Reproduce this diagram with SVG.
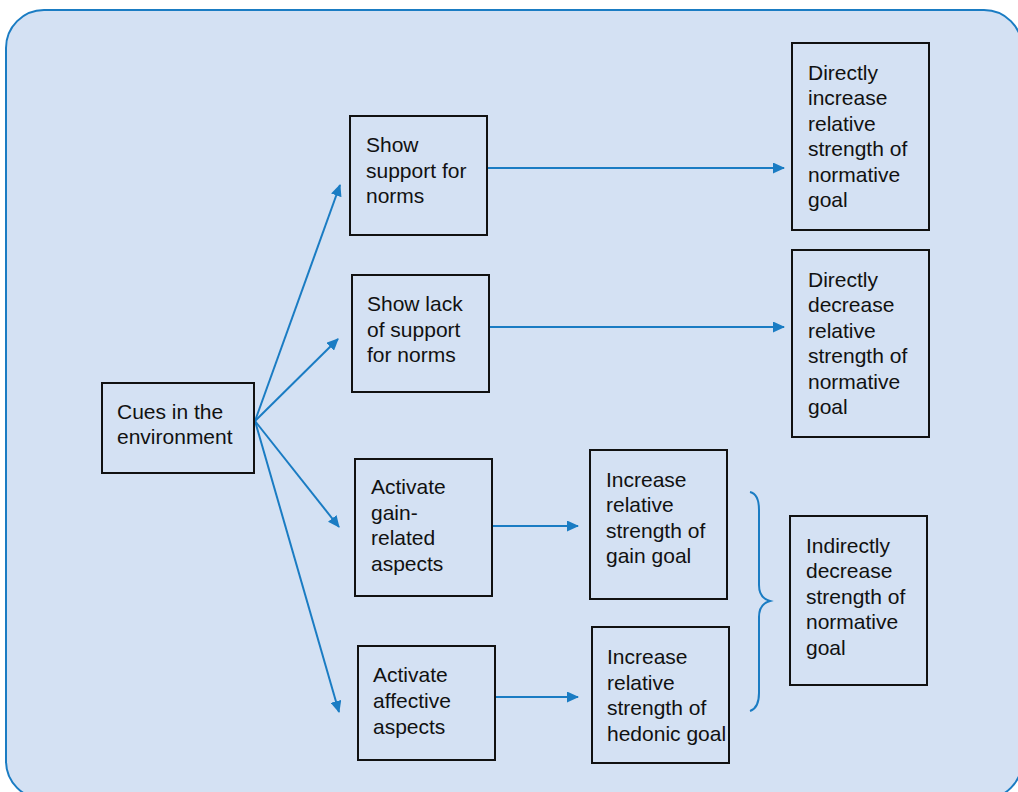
<svg xmlns="http://www.w3.org/2000/svg" width="1018" height="792" viewBox="0 0 1018 792">
  <defs>
    <marker id="arrow" viewBox="0 0 12 11" refX="11" refY="5.5" markerWidth="12" markerHeight="11" markerUnits="userSpaceOnUse" orient="auto">
      <path d="M0,0 L12,5.5 L0,11 Z" fill="#1a7cc3"/>
    </marker>
    <style>
      .box { fill: none; stroke: #111; stroke-width: 2; }
      .lbl { font-family: "Liberation Sans", Arial, sans-serif; font-size: 21px; fill: #111; }
      .conn { stroke: #1a7cc3; stroke-width: 2; fill: none; }
    </style>
  </defs>

  <rect width="1018" height="792" fill="#ffffff"/>
  <!-- background panel -->
  <rect x="6" y="10" width="1016" height="789" rx="38" ry="38" fill="#d4e1f3" stroke="#1a7cc3" stroke-width="2"/>

  <g id="connectors">
    <line class="conn" x1="255" y1="421" x2="340" y2="185" marker-end="url(#arrow)"/>
    <line class="conn" x1="255" y1="421" x2="338" y2="339" marker-end="url(#arrow)"/>
    <line class="conn" x1="255" y1="421" x2="339" y2="527" marker-end="url(#arrow)"/>
    <line class="conn" x1="255" y1="421" x2="339" y2="712" marker-end="url(#arrow)"/>
    <line class="conn" x1="487" y1="168" x2="784" y2="168" marker-end="url(#arrow)"/>
    <line class="conn" x1="489" y1="327" x2="784" y2="327" marker-end="url(#arrow)"/>
    <line class="conn" x1="492" y1="526" x2="578" y2="526" marker-end="url(#arrow)"/>
    <line class="conn" x1="495" y1="697" x2="578" y2="697" marker-end="url(#arrow)"/>
    <!-- curly brace grouping the two goal boxes -->
    <path class="conn" d="M750,492 Q759,494 759,510 L759,585 Q759,598 770,601 Q759,604 759,617 L759,693 Q759,708 750,711" stroke-width="2.5"/>
  </g>

  <g id="cues">
    <rect class="box" x="102" y="383" width="152" height="90"/>
    <text class="lbl"><tspan x="117" y="419">Cues in the</tspan><tspan x="117" y="444">environment</tspan></text>
  </g>

  <g id="show-support">
    <rect class="box" x="350" y="116" width="137" height="119"/>
    <text class="lbl"><tspan x="366" y="152">Show</tspan><tspan x="366" y="178">support for</tspan><tspan x="366" y="203">norms</tspan></text>
  </g>

  <g id="show-lack">
    <rect class="box" x="352" y="275" width="137" height="117"/>
    <text class="lbl"><tspan x="367" y="311">Show lack</tspan><tspan x="367" y="337">of support</tspan><tspan x="367" y="362">for norms</tspan></text>
  </g>

  <g id="activate-gain">
    <rect class="box" x="355" y="459" width="137" height="137"/>
    <text class="lbl"><tspan x="371" y="494">Activate</tspan><tspan x="371" y="520">gain-</tspan><tspan x="371" y="545">related</tspan><tspan x="371" y="571">aspects</tspan></text>
  </g>

  <g id="activate-affective">
    <rect class="box" x="358" y="646" width="137" height="114"/>
    <text class="lbl"><tspan x="373" y="682">Activate</tspan><tspan x="373" y="708">affective</tspan><tspan x="373" y="734">aspects</tspan></text>
  </g>

  <g id="directly-increase">
    <rect class="box" x="792" y="43" width="137" height="187"/>
    <text class="lbl"><tspan x="808" y="80">Directly</tspan><tspan x="808" y="105">increase</tspan><tspan x="808" y="131">relative</tspan><tspan x="808" y="156">strength of</tspan><tspan x="808" y="182">normative</tspan><tspan x="808" y="207">goal</tspan></text>
  </g>

  <g id="directly-decrease">
    <rect class="box" x="792" y="250" width="137" height="187"/>
    <text class="lbl"><tspan x="808" y="287">Directly</tspan><tspan x="808" y="312">decrease</tspan><tspan x="808" y="338">relative</tspan><tspan x="808" y="363">strength of</tspan><tspan x="808" y="389">normative</tspan><tspan x="808" y="414">goal</tspan></text>
  </g>

  <g id="increase-gain">
    <rect class="box" x="590" y="450" width="137" height="149"/>
    <text class="lbl"><tspan x="606" y="487">Increase</tspan><tspan x="606" y="512">relative</tspan><tspan x="606" y="538">strength of</tspan><tspan x="606" y="563">gain goal</tspan></text>
  </g>

  <g id="increase-hedonic">
    <rect class="box" x="592" y="627" width="137" height="136"/>
    <text class="lbl"><tspan x="607" y="664">Increase</tspan><tspan x="607" y="690">relative</tspan><tspan x="607" y="715">strength of</tspan><tspan x="607" y="741">hedonic goal</tspan></text>
  </g>

  <g id="indirectly-decrease">
    <rect class="box" x="790" y="516" width="137" height="169"/>
    <text class="lbl"><tspan x="806" y="553">Indirectly</tspan><tspan x="806" y="578">decrease</tspan><tspan x="806" y="604">strength of</tspan><tspan x="806" y="629">normative</tspan><tspan x="806" y="655">goal</tspan></text>
  </g>
</svg>
